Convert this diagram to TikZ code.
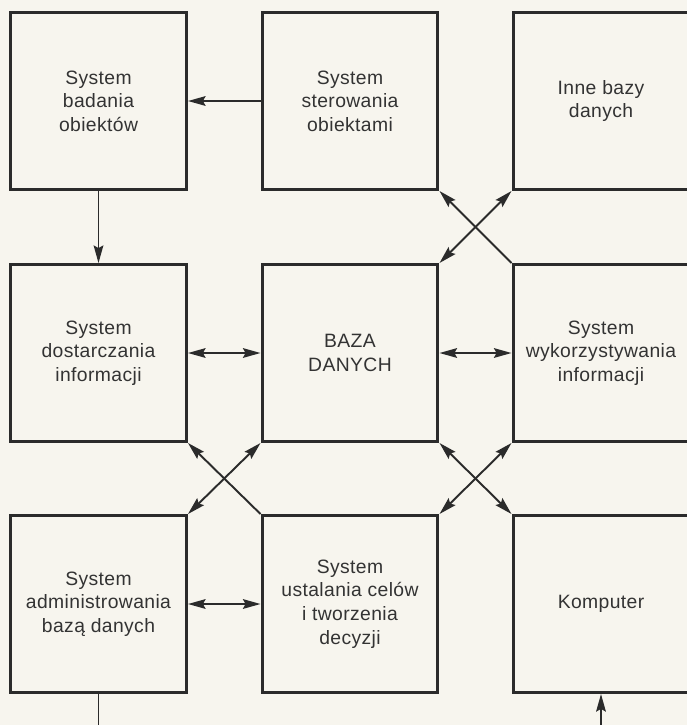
\documentclass[tikz,border=0pt]{standalone}
\usepackage{fontspec}
\setmainfont{Liberation Sans}[LetterSpace=2]
\usetikzlibrary{arrows.meta}
\definecolor{paper}{HTML}{F7F5EE}
\definecolor{ink}{HTML}{2B2B2B}
\definecolor{txt}{HTML}{333333}
\begin{document}
\begin{tikzpicture}[x=0.02cm,y=-0.02cm,
  block/.style={draw=ink, line width=1.7pt, fill=paper, inner sep=0pt,
    minimum width=3.52cm, minimum height=3.54cm, align=center,
    text=txt, font=\fontsize{11}{13.4}\selectfont},
  link/.style={draw=ink, line width=1.1pt},
  tip/.tip={Stealth[length=10pt,width=5.5pt,inset=1.5pt]},
  one/.style={link, -tip},
  two/.style={link, tip-tip}]
  % page
  \fill[paper] (0,0) rectangle (687,725);
  \useasboundingbox (0,0) rectangle (687,725);
  \clip (0,0) rectangle (687,725);

  % blocks, three rows of three
  \node[block] (bad) at (98.5,101) {System\\badania\\obiektów};
  \node[block] (ster) at (350,101) {System\\sterowania\\obiektami};
  \node[block] (inne) at (601,101) {Inne bazy\\danych};
  \node[block] (dost) at (98.5,353) {System\\dostarczania\\informacji};
  \node[block] (baza) at (350,353) {BAZA\\DANYCH};
  \node[block] (wyk) at (601,353) {System\\wykorzystywania\\informacji};
  \node[block] (adm) at (98.5,604) {System\\administrowania\\bazą danych};
  \node[block] (ust) at (350,604) {System\\ustalania celów\\i tworzenia\\decyzji};
  \node[block] (komp) at (601,604) {Komputer};

  % straight links
  \draw[one] (ster.west) -- (bad.east);
  \draw[one] (bad.south) -- (dost.north);
  \draw[two] (dost.east) -- (baza.west);
  \draw[two] (baza.east) -- (wyk.west);
  \draw[two] (adm.east) -- (ust.west);

  % crossing links between corners
  \draw[one] (wyk.north west) -- (ster.south east);
  \draw[two] (baza.north east) -- (inne.south west);
  \draw[one] (ust.north west) -- (dost.south east);
  \draw[two] (baza.south west) -- (adm.north east);
  \draw[two] (baza.south east) -- (komp.north west);
  \draw[two] (wyk.south west) -- (ust.north east);

  % return path below the lower row
  \coordinate (low) at (0,725.5);
  \draw[one] (adm.south) -- (adm.south |- low) -- (komp.south |- low) -- (komp.south);
\end{tikzpicture}
\end{document}
